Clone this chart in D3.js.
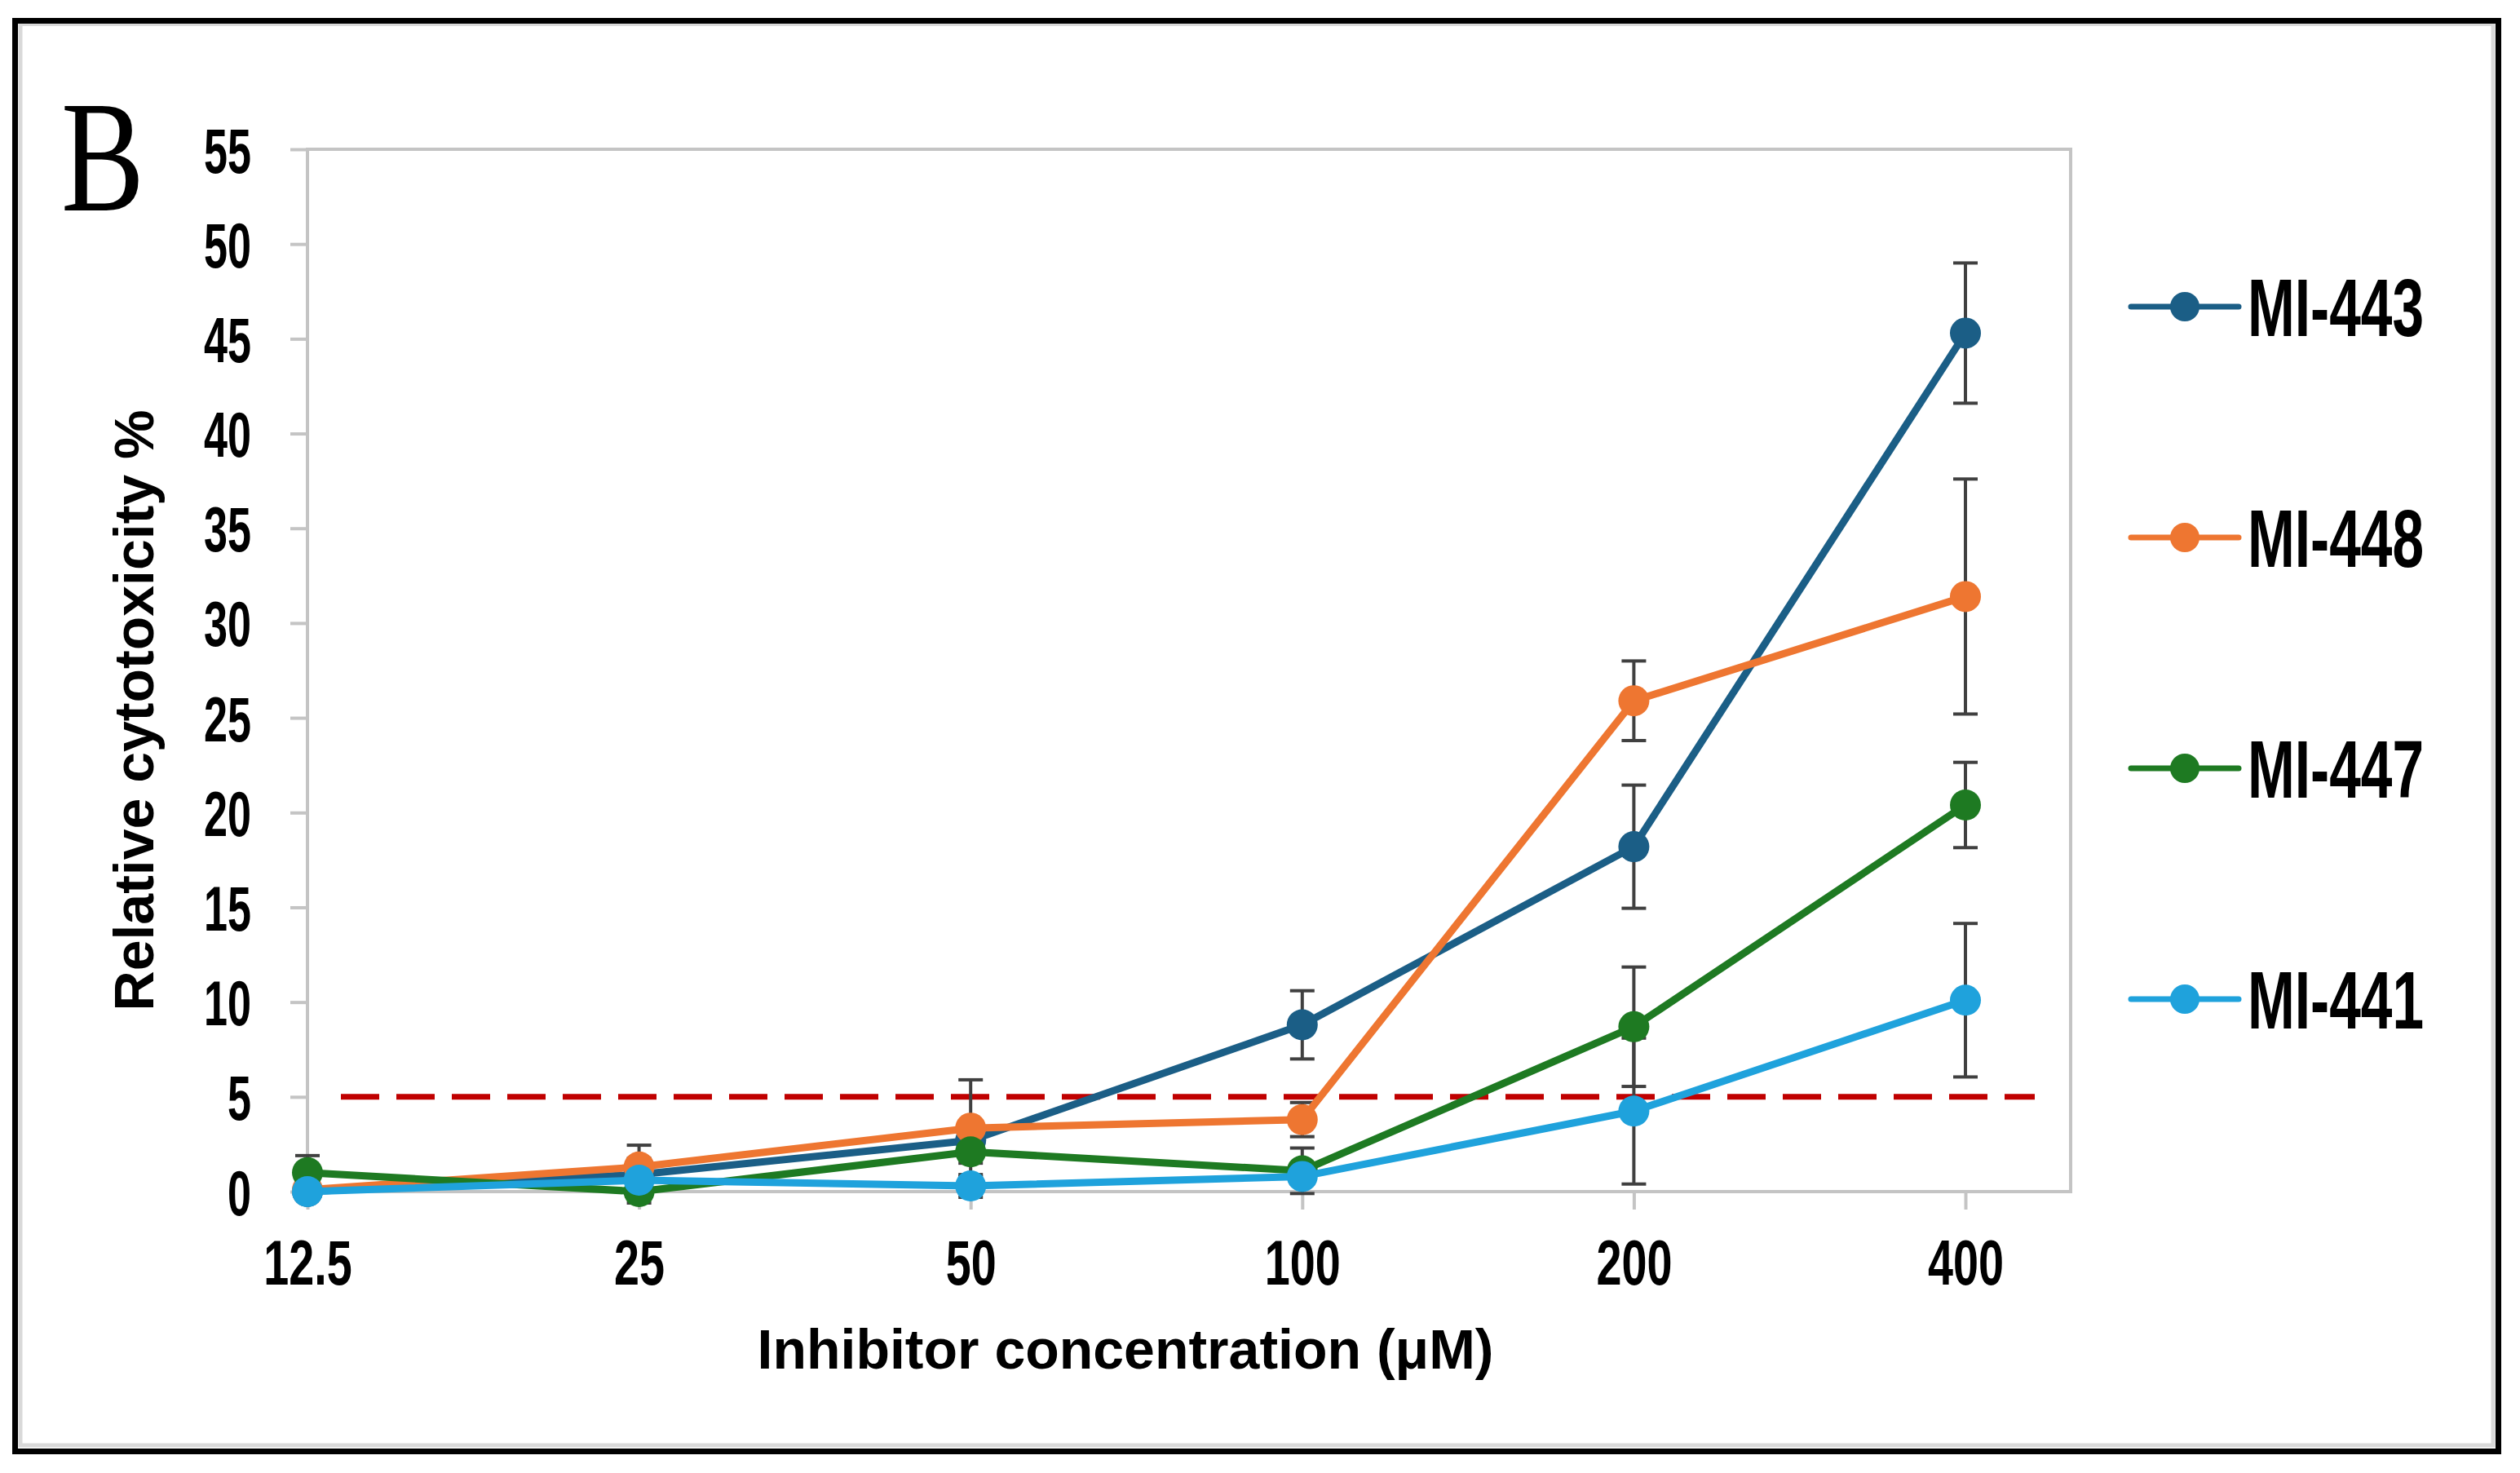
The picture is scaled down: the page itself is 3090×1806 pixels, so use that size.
<!DOCTYPE html>
<html>
<head>
<meta charset="utf-8">
<title>cytotoxicity</title>
<script src="https://d3js.org/d3.v7.min.js"></script>
<style>
  body { margin: 0; background: #fff; }
  svg { display: block; background: #fff; }
</style>
</head>
<body>
<svg id="chart"></svg>
<script>
// ---- data ----
var concentrations = ["12.5", "25", "50", "100", "200", "400"];
var yTicks = [0, 5, 10, 15, 20, 25, 30, 35, 40, 45, 50, 55];
var seriesNames = ["MI-443", "MI-448", "MI-447", "MI-441"];

var mi443 = [0, 0.9, 2.7, 8.8, 18.2, 45.3];
var mi448 = [0.1, 1.3, 3.35, 3.8, 25.9, 31.4];
var mi447 = [1.0, 0, 2.1, 1.1, 8.7, 20.4];
var mi441 = [0, 0.6, 0.3, 0.8, 4.25, 10.1];

var err443 = [0, 0.85, 0.8, 1.8, 3.25, 3.7];
var err448 = [0, 1.15, 2.55, 0.9, 2.1, 6.2];
var err447 = [0.9, 0.6, 0.6, 1.2, 3.15, 2.25];
var err441 = [0.4, 0.5, 0.6, 0.4, 3.85, 4.05];

var threshold = 5;

var colors = ["#1b5e86", "#ee7631", "#1e7a22", "#1fa2dc"];
var values = [mi443, mi448, mi447, mi441];
var errors = [err443, err448, err447, err441];

// ---- layout ----
var W = 3090, H = 1806;
var plotLeft = 377, plotTop = 183, plotRight = 2539, plotBottom = 1461;
var numFont = '"Liberation Sans Narrow", "Liberation Sans", Arial, sans-serif';
var titleFont = '"Liberation Sans", Arial, sans-serif';

var svg = d3.select("#chart").attr("width", W).attr("height", H);

// outer frames
svg.append("rect").attr("x", 25).attr("y", 29.5).attr("width", 3032).attr("height", 1742.5)
    .attr("fill", "none").attr("stroke", "#d9d9d9").attr("stroke-width", 5);
svg.append("rect").attr("x", 18.5).attr("y", 25.5).attr("width", 3045).attr("height", 1754)
    .attr("fill", "none").attr("stroke", "#000").attr("stroke-width", 7);

var x = d3.scalePoint().domain(concentrations).range([plotLeft, 2410]);
var y = d3.scaleLinear().domain([0, 55]).range([plotBottom, plotTop]);

// plot frame
svg.append("rect").attr("x", plotLeft).attr("y", plotTop)
    .attr("width", plotRight - plotLeft).attr("height", plotBottom - plotTop)
    .attr("fill", "none").attr("stroke", "#c4c4c4").attr("stroke-width", 4);

// helper: horizontal squeeze factor so a sample string gets a target width
function squeeze(sample, size, target) {
    var t = svg.append("text").text(sample)
        .style("font-family", numFont).style("font-weight", "bold").style("font-size", size + "px");
    var w = t.node().getComputedTextLength();
    t.remove();
    return target / w;
}

// y axis
var sy = squeeze("55", 78, 58);
var gy = svg.append("g").attr("transform", "translate(" + plotLeft + ",0)")
    .call(d3.axisLeft(y).tickValues(yTicks).tickSize(21).tickPadding(48));
gy.select(".domain").remove();
gy.selectAll(".tick line").attr("stroke", "#c4c4c4").attr("stroke-width", 4);
gy.selectAll(".tick text")
    .style("font-family", numFont).style("font-weight", "bold").style("font-size", "78px")
    .attr("fill", "#000")
    .attr("x", -69 / sy).attr("dy", 0).attr("y", 28)
    .attr("transform", "scale(" + sy + ",1)");

// x axis
var sx = squeeze("400", 78, 93);
var gx = svg.append("g").attr("transform", "translate(0," + plotBottom + ")")
    .call(d3.axisBottom(x).tickSize(22).tickPadding(10));
gx.select(".domain").remove();
gx.selectAll(".tick line").attr("stroke", "#c4c4c4").attr("stroke-width", 4);
gx.selectAll(".tick text")
    .style("font-family", numFont).style("font-weight", "bold").style("font-size", "78px")
    .attr("fill", "#000")
    .attr("y", 114).attr("dy", 0)
    .attr("transform", "scale(" + sx + ",1)");

// threshold line
svg.append("line")
    .attr("x1", x("12.5") + 41).attr("x2", plotRight - 44)
    .attr("y1", y(threshold)).attr("y2", y(threshold))
    .attr("stroke", "#c00000").attr("stroke-width", 7)
    .attr("stroke-dasharray", "47 21");

// error bars
values.forEach(function (vals, s) {
    var g = svg.append("g").attr("stroke", "#404040").attr("stroke-width", 4);
    vals.forEach(function (v, i) {
        var e = errors[s][i];
        if (!e) return;
        var cx = x(concentrations[i]);
        g.append("line").attr("x1", cx).attr("x2", cx).attr("y1", y(v - e)).attr("y2", y(v + e));
        g.append("line").attr("x1", cx - 15).attr("x2", cx + 15).attr("y1", y(v - e)).attr("y2", y(v - e));
        g.append("line").attr("x1", cx - 15).attr("x2", cx + 15).attr("y1", y(v + e)).attr("y2", y(v + e));
    });
});

// series
var line = d3.line()
    .x(function (d, i) { return x(concentrations[i]); })
    .y(function (d) { return y(d); });

values.forEach(function (vals, s) {
    svg.append("path").datum(vals).attr("d", line)
        .attr("fill", "none").attr("stroke", colors[s]).attr("stroke-width", 9)
        .attr("stroke-linejoin", "round");
    svg.selectAll(".pt" + s).data(vals).enter().append("circle")
        .attr("cx", function (d, i) { return x(concentrations[i]); })
        .attr("cy", function (d) { return y(d); })
        .attr("r", 19).attr("fill", colors[s]);
});

// legend
var sl = squeeze("MI-443", 100, 216);
var lg = svg.append("g");
seriesNames.forEach(function (name, i) {
    var cy = 376 + i * 283;
    lg.append("line").attr("x1", 2613).attr("x2", 2745).attr("y1", cy).attr("y2", cy)
        .attr("stroke", colors[i]).attr("stroke-width", 7).attr("stroke-linecap", "round");
    lg.append("circle").attr("cx", 2679).attr("cy", cy).attr("r", 18).attr("fill", colors[i]);
    lg.append("text").text(name)
        .style("font-family", numFont).style("font-weight", "bold").style("font-size", "100px")
        .attr("x", 2756 / sl).attr("y", cy + 36)
        .attr("transform", "scale(" + sl + ",1)");
});

// titles
svg.append("text").text("Relative cytotoxicity %")
    .style("font-family", titleFont).style("font-weight", "bold").style("font-size", "68px")
    .attr("text-anchor", "middle")
    .attr("transform", "translate(188,871) rotate(-90)");

svg.append("text").text("Inhibitor concentration (μM)")
    .style("font-family", titleFont).style("font-weight", "bold").style("font-size", "68px")
    .attr("text-anchor", "middle")
    .attr("x", 1380).attr("y", 1678);

svg.append("text").text("B")
    .style("font-family", '"Liberation Serif", "Times New Roman", serif').style("font-size", "196px")
    .attr("x", 75 / 0.78).attr("y", 258)
    .attr("transform", "scale(0.78,1)");
</script>
</body>
</html>
